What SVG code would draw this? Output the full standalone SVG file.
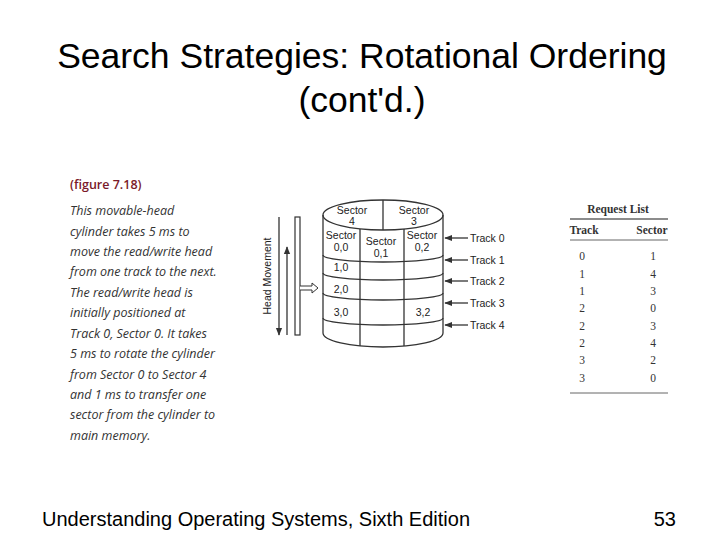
<svg xmlns="http://www.w3.org/2000/svg" width="720" height="540" viewBox="0 0 720 540">
<style>
.t{font-family:"Liberation Sans",Arial,sans-serif;fill:#000}
.cap{font-family:"Open Sans","Liberation Sans",sans-serif;font-style:italic;font-size:12.5px;fill:#333}
.d{font-family:"Liberation Sans",Arial,sans-serif;font-size:10.5px;fill:#222}
.tb{font-family:"Liberation Serif","Times New Roman",serif;font-size:11.5px;fill:#333}
.ln{fill:none;stroke:#333;stroke-width:1.3}
</style>
<defs>
<marker id="ah" viewBox="0 0 10 10" refX="9" refY="5" markerWidth="6" markerHeight="6" orient="auto"><path d="M0,1 L10,5 L0,9 z" fill="#333"/></marker>
</defs>
<rect width="720" height="540" fill="#fff"/>
<g id="title">
<text class="t" x="362" y="68" font-size="35.5" text-anchor="middle">Search Strategies: Rotational Ordering</text>
<text class="t" x="362" y="112" font-size="35.5" text-anchor="middle">(cont'd.)</text>
</g>
<g id="caption">
<text x="70" y="189" font-family="Open Sans,Liberation Sans,sans-serif" font-size="12.5" font-weight="600" fill="#7a1a2a">(figure 7.18)</text>
<text class="cap" x="70" y="215">This movable-head</text>
<text class="cap" x="70" y="236">cylinder takes 5 ms to</text>
<text class="cap" x="70" y="256">move the read/write head</text>
<text class="cap" x="70" y="276">from one track to the next.</text>
<text class="cap" x="70" y="297">The read/write head is</text>
<text class="cap" x="70" y="317">initially positioned at</text>
<text class="cap" x="70" y="338">Track 0, Sector 0. It takes</text>
<text class="cap" x="70" y="358">5 ms to rotate the cylinder</text>
<text class="cap" x="70" y="379">from Sector 0 to Sector 4</text>
<text class="cap" x="70" y="399">and 1 ms to transfer one</text>
<text class="cap" x="70" y="419">sector from the cylinder to</text>
<text class="cap" x="70" y="440">main memory.</text>
</g>
<g id="cylinder">
<ellipse class="ln" cx="383" cy="215" rx="60" ry="15"/>
<line class="ln" x1="323" y1="215" x2="323" y2="333"/>
<line class="ln" x1="443" y1="215" x2="443" y2="333"/>
<path class="ln" d="M323,255 A60,7 0 0 0 443,255"/>
<path class="ln" d="M323,273 A60,7 0 0 0 443,273"/>
<path class="ln" d="M323,293 A60,7 0 0 0 443,293"/>
<path class="ln" d="M323,318 A60,7 0 0 0 443,318"/>
<path class="ln" d="M323,333 A60,14 0 0 0 443,333"/>
<line class="ln" x1="383" y1="200" x2="383" y2="230"/>
<line class="ln" x1="360" y1="229" x2="360" y2="346"/>
<line class="ln" x1="404" y1="229" x2="404" y2="346"/>
<text class="d" x="352" y="214" text-anchor="middle">Sector</text>
<text class="d" x="352" y="225" text-anchor="middle">4</text>
<text class="d" x="414" y="214" text-anchor="middle">Sector</text>
<text class="d" x="414" y="225" text-anchor="middle">3</text>
<text class="d" x="341" y="239" text-anchor="middle">Sector</text>
<text class="d" x="341" y="251" text-anchor="middle">0,0</text>
<text class="d" x="381" y="245" text-anchor="middle">Sector</text>
<text class="d" x="381" y="257" text-anchor="middle">0,1</text>
<text class="d" x="422" y="239" text-anchor="middle">Sector</text>
<text class="d" x="422" y="251" text-anchor="middle">0,2</text>
<text class="d" x="341" y="271" text-anchor="middle">1,0</text>
<text class="d" x="341" y="293" text-anchor="middle">2,0</text>
<text class="d" x="341" y="316" text-anchor="middle">3,0</text>
<text class="d" x="423" y="316" text-anchor="middle">3,2</text>
</g>
<g id="head">
<rect x="295" y="217" width="5" height="118" fill="#fff" stroke="#333" stroke-width="1.2"/>
<text class="d" transform="translate(271,276) rotate(-90)" text-anchor="middle">Head Movement</text>
<path d="M300,286 H312 V283 L318,288 L312,293 V290 H300" fill="#fff" stroke="#333" stroke-width="1"/>
</g>
<g id="connectors">
<line class="ln" x1="279" y1="217" x2="279" y2="335" marker-end="url(#ah)"/>
<line class="ln" x1="287" y1="335" x2="287" y2="247" marker-end="url(#ah)"/>
<line class="ln" x1="468" y1="238" x2="445" y2="238" marker-end="url(#ah)"/>
<line class="ln" x1="468" y1="260" x2="445" y2="260" marker-end="url(#ah)"/>
<line class="ln" x1="468" y1="281" x2="445" y2="281" marker-end="url(#ah)"/>
<line class="ln" x1="468" y1="303" x2="445" y2="303" marker-end="url(#ah)"/>
<line class="ln" x1="468" y1="325" x2="445" y2="325" marker-end="url(#ah)"/>
</g>
<g id="tracks">
<text class="d" x="470" y="242">Track 0</text>
<text class="d" x="470" y="264">Track 1</text>
<text class="d" x="470" y="285">Track 2</text>
<text class="d" x="470" y="307">Track 3</text>
<text class="d" x="470" y="329">Track 4</text>
</g>
<g id="table">
<text class="tb" x="618" y="213" text-anchor="middle" font-weight="bold">Request List</text>
<line x1="570" y1="219" x2="668" y2="219" stroke="#666" stroke-width="1.5"/>
<text class="tb" x="584" y="234" text-anchor="middle" font-weight="bold">Track</text>
<text class="tb" x="652" y="234" text-anchor="middle" font-weight="bold">Sector</text>
<line x1="570" y1="240" x2="668" y2="240" stroke="#666" stroke-width="1"/>
<g text-anchor="middle" class="tb">
<text x="582" y="260">0</text><text x="653" y="260">1</text>
<text x="582" y="278">1</text><text x="653" y="278">4</text>
<text x="582" y="295">1</text><text x="653" y="295">3</text>
<text x="582" y="312">2</text><text x="653" y="312">0</text>
<text x="582" y="330">2</text><text x="653" y="330">3</text>
<text x="582" y="347">2</text><text x="653" y="347">4</text>
<text x="582" y="364">3</text><text x="653" y="364">2</text>
<text x="582" y="382">3</text><text x="653" y="382">0</text>
</g>
<line x1="570" y1="393" x2="668" y2="393" stroke="#666" stroke-width="1"/>
</g>
<g id="footer">
<text class="t" x="42" y="526" font-size="20">Understanding Operating Systems, Sixth Edition</text>
<text class="t" x="676" y="526" font-size="20" text-anchor="end">53</text>
</g>
</svg>
